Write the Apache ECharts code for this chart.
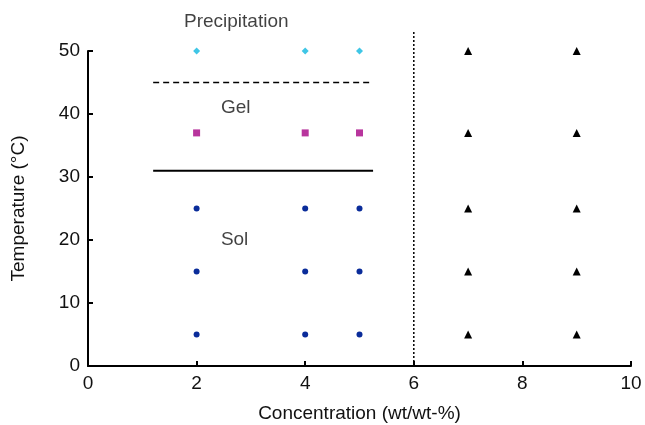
<!DOCTYPE html>
<html>
<head>
<meta charset="utf-8">
<script src="https://cdn.jsdelivr.net/npm/echarts@6/dist/echarts.min.js"></script>
<style>
  html, body { margin: 0; padding: 0; background: #fff; }
  #chart { width: 645px; height: 425px; }
</style>
</head>
<body>
<div id="chart"></div>
<script>
  // phase points
  const precipitation = [[2, 50], [4, 50], [5, 50]];
  const gel = [[2, 37], [4, 37], [5, 37]];
  const sol = [[2, 25], [4, 25], [5, 25], [2, 15], [4, 15], [5, 15], [2, 5], [4, 5], [5, 5]];
  const insoluble = [[7, 50], [9, 50], [7, 37], [9, 37], [7, 25], [9, 25], [7, 15], [9, 15], [7, 5], [9, 5]];

  // boundary lines
  const gelPrecipLine = [[1.2, 45], [5.25, 45]];
  const solGelLine = [[1.2, 31], [5.25, 31]];
  const solubilityLimit = [[6, 0], [6, 53]];

  // region labels
  const regionLabels = [
    { name: 'Precipitation', value: [2.73, 54.6] },
    { name: 'Gel', value: [2.72, 41.0] },
    { name: 'Sol', value: [2.7, 20.0] }
  ];

  const font = 'Liberation Sans, Arial, sans-serif';
  const fs = 19;
  const ink = '#111';
  const chart = echarts.init(document.getElementById('chart'));

  chart.setOption({
    animation: false,
    grid: { left: 88, right: 14, top: 51, bottom: 59, containLabel: false, outerBoundsMode: 'none' },
    xAxis: {
      type: 'value', min: 0, max: 10, interval: 2,
      name: 'Concentration (wt/wt-%)', nameLocation: 'middle', nameGap: 38,
      nameTextStyle: { fontFamily: font, fontSize: fs, color: ink },
      axisLine: { lineStyle: { color: '#000', width: 2 } },
      axisTick: { inside: true, length: 5, lineStyle: { color: '#000', width: 2 } },
      axisLabel: { fontFamily: font, fontSize: fs, color: ink, margin: 8 },
      splitLine: { show: false }
    },
    yAxis: {
      type: 'value', min: 0, max: 50, interval: 10,
      name: 'Temperature (°C)', nameLocation: 'middle', nameGap: 60, nameRotate: 90,
      nameTextStyle: { fontFamily: font, fontSize: fs, color: ink },
      axisLine: { lineStyle: { color: '#000', width: 2 } },
      axisTick: { inside: true, length: 5, lineStyle: { color: '#000', width: 2 } },
      axisLabel: { fontFamily: font, fontSize: fs, color: ink, margin: 8 },
      splitLine: { show: false }
    },
    series: [
      {
        type: 'line', data: gelPrecipLine, symbol: 'none', silent: true,
        lineStyle: { color: '#000', width: 1.5, type: [6, 4] }
      },
      {
        type: 'line', data: solGelLine, symbol: 'none', silent: true,
        lineStyle: { color: '#000', width: 2 }
      },
      {
        type: 'line', data: solubilityLimit, symbol: 'none', silent: true, clip: false,
        lineStyle: { color: '#000', width: 1.5, type: [2, 2] }
      },
      {
        type: 'scatter', data: precipitation, symbol: 'diamond', symbolSize: 7,
        itemStyle: { color: '#3fc6e6', opacity: 1 }
      },
      {
        type: 'scatter', data: gel, symbol: 'rect', symbolSize: 7,
        itemStyle: { color: '#b8359d', opacity: 1 }
      },
      {
        type: 'scatter', data: sol, symbol: 'circle', symbolSize: 6,
        itemStyle: { color: '#0a2c9a', opacity: 1 }
      },
      {
        type: 'scatter', data: insoluble, symbol: 'triangle', symbolSize: 8,
        itemStyle: { color: '#000', opacity: 1 }
      },
      {
        type: 'scatter', data: regionLabels, symbolSize: 0, silent: true, clip: false,
        label: {
          show: true, position: 'inside', formatter: '{b}',
          fontFamily: font, fontSize: fs, color: ink
        }
      }
    ]
  });
</script>
</body>
</html>
